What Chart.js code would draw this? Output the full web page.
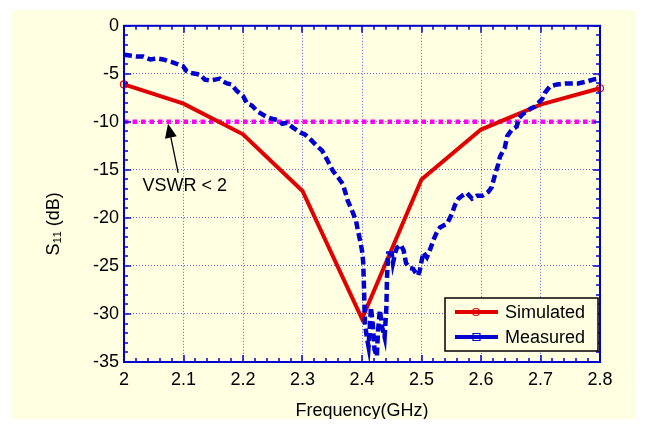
<!DOCTYPE html>
<html>
<head>
<meta charset="utf-8">
<script src="https://cdn.jsdelivr.net/npm/chart.js@4.4.1/dist/chart.umd.min.js"></script>
<style>
  html, body { margin: 0; padding: 0; background: #fff; }
  #panel { position: absolute; left: 12px; top: 10px; width: 624px; height: 409px; background: #FFFFE2; }
  canvas { display: block; }
</style>
</head>
<body>
<div id="panel"><canvas id="c" width="624" height="409"></canvas></div>
<script>
// simulated S11, one point per 0.1 GHz
const simFreq = [2.0, 2.1, 2.2, 2.3, 2.4, 2.5, 2.6, 2.7, 2.8];
const simS11 = [-6.1, -8.1, -11.3, -17.2, -30.5, -16.0, -10.8, -8.2, -6.5];

// measured S11
const measFreq = [
  2.000, 2.010, 2.020, 2.032, 2.044, 2.055, 2.066, 2.075, 2.082, 2.090,
  2.099, 2.105, 2.111, 2.120, 2.128, 2.136, 2.145, 2.153, 2.161, 2.167,
  2.173, 2.180, 2.190, 2.200, 2.207, 2.215, 2.224, 2.232, 2.240, 2.250,
  2.259, 2.266, 2.274, 2.284, 2.296, 2.304, 2.313, 2.324, 2.333, 2.341,
  2.351, 2.360, 2.368, 2.376, 2.385, 2.390, 2.393, 2.397, 2.400, 2.402,
  2.403, 2.404, 2.405, 2.408, 2.411, 2.413, 2.415, 2.418, 2.421, 2.425,
  2.427, 2.430, 2.434, 2.438, 2.441, 2.442, 2.444, 2.450, 2.452, 2.456,
  2.459, 2.465, 2.470, 2.474, 2.480, 2.486, 2.490, 2.494, 2.497, 2.503,
  2.509, 2.515, 2.520, 2.525, 2.531, 2.537, 2.543, 2.551, 2.556, 2.562,
  2.568, 2.576, 2.585, 2.593, 2.602, 2.612, 2.618, 2.624, 2.629, 2.632,
  2.640, 2.644, 2.652, 2.660, 2.664, 2.670, 2.677, 2.684, 2.691, 2.697,
  2.703, 2.707, 2.716, 2.728, 2.741, 2.752, 2.763, 2.778, 2.788, 2.797,
  2.800
];
const measS11 = [
  -3.0, -3.1, -3.2, -3.2, -3.5, -3.4, -3.5, -3.7, -3.8, -4.0,
  -4.2, -4.7, -4.9, -5.0, -5.1, -5.6, -5.7, -5.6, -5.5, -5.8,
  -6.0, -6.1, -6.8, -7.3, -8.1, -8.3, -8.9, -9.2, -9.5, -9.7,
  -9.8, -10.2, -10.1, -10.6, -11.1, -11.3, -11.8, -12.5, -13.0, -13.9,
  -15.1, -15.8, -16.5, -18.2, -19.5, -20.3, -21.3, -22.4, -23.4, -24.6,
  -26.5, -28.8, -31.0, -32.4, -33.4, -31.5, -29.3, -31.0, -33.7, -34.4,
  -31.7, -29.6, -31.4, -32.4, -29.3, -26.2, -23.7, -23.7, -24.7, -23.6,
  -23.1, -22.8, -23.4, -24.7, -25.2, -25.3, -25.7, -26.0, -25.5, -23.6,
  -24.1, -23.2, -22.3, -21.6, -21.0, -20.8, -20.6, -19.6, -18.7, -18.0,
  -17.7, -17.4, -18.0, -17.7, -17.7, -17.3, -16.8, -15.4, -14.4, -13.6,
  -12.7, -11.5, -10.8, -10.5, -9.6, -9.2, -8.9, -8.6, -8.4, -8.0,
  -7.6, -7.0, -6.3, -6.1, -6.0, -6.0, -6.0, -5.8, -5.6, -5.5,
  -5.3
];

// VSWR = 2 reference level
const vswrFreq = [2.0, 2.8];
const vswrS11 = [-10, -10];

const xTicks = [2.0, 2.1, 2.2, 2.3, 2.4, 2.5, 2.6, 2.7, 2.8];
const yTicks = [0, -5, -10, -15, -20, -25, -30, -35];

// arrow annotation: text spot, arrow tail, arrow tip (data units)
const noteText = 'VSWR < 2';
const noteAt = [2.102, -16.7];
const arrowFrom = [2.091, -15.3];
const arrowTo = [2.074, -10.2];

const FONT = '"Liberation Sans", Arial, sans-serif';
const FRAME = '#0000CC';
const RED = '#E00000';
const BLUE = '#0000D0';

const pts = (xs, ys) => xs.map((v, i) => ({ x: v, y: ys[i] }));

const frame = {
  id: 'frame',
  afterDatasetsDraw(chart) {
    const { ctx, chartArea: a, scales: { x, y } } = chart;
    ctx.save();
    // inward ticks on all four sides
    ctx.strokeStyle = FRAME;
    ctx.lineWidth = 1.5;
    ctx.beginPath();
    for (let i = 0; i <= 40; i++) {
      const px = Math.round(x.getPixelForValue(2 + i * 0.02));
      const len = i % 5 === 0 ? 7 : 4;
      ctx.moveTo(px, a.bottom); ctx.lineTo(px, a.bottom - len);
      ctx.moveTo(px, a.top); ctx.lineTo(px, a.top + len);
    }
    for (let i = 0; i <= 35; i++) {
      const py = Math.round(y.getPixelForValue(-i));
      const len = i % 5 === 0 ? 7 : 4;
      ctx.moveTo(a.left, py); ctx.lineTo(a.left + len, py);
      ctx.moveTo(a.right, py); ctx.lineTo(a.right - len, py);
    }
    ctx.stroke();
    ctx.lineWidth = 2;
    ctx.strokeRect(a.left, a.top, a.right - a.left, a.bottom - a.top);

    // arrow + note
    const tx = x.getPixelForValue(arrowFrom[0]), ty = y.getPixelForValue(arrowFrom[1]);
    const hx = x.getPixelForValue(arrowTo[0]), hy = y.getPixelForValue(arrowTo[1]);
    const ang = Math.atan2(hy - ty, hx - tx);
    const hl = 14, hw = 6;
    const bx = hx - hl * Math.cos(ang), by = hy - hl * Math.sin(ang);
    ctx.strokeStyle = '#000';
    ctx.fillStyle = '#000';
    ctx.lineWidth = 1.3;
    ctx.beginPath();
    ctx.moveTo(tx, ty); ctx.lineTo(bx, by);
    ctx.stroke();
    ctx.beginPath();
    ctx.moveTo(hx, hy);
    ctx.lineTo(bx + hw * Math.sin(ang), by - hw * Math.cos(ang));
    ctx.lineTo(bx - hw * Math.sin(ang), by + hw * Math.cos(ang));
    ctx.closePath();
    ctx.fill();
    ctx.font = '18px ' + FONT;
    ctx.textAlign = 'center';
    ctx.textBaseline = 'middle';
    ctx.fillText(noteText, x.getPixelForValue(noteAt[0]), y.getPixelForValue(noteAt[1]));

    // legend box, bottom right of the plot
    const ds = chart.data.datasets;
    const bw = 153, bh = 53;
    const bl = a.right - 2 - bw, bt = a.bottom - 11 - bh;
    ctx.fillStyle = '#FFFFE2';
    ctx.fillRect(bl, bt, bw, bh);
    ctx.strokeStyle = '#000';
    ctx.lineWidth = 1.5;
    ctx.strokeRect(bl, bt, bw, bh);
    [ds[1], ds[0]].forEach((d, k) => {
      const ly = bt + 14 + k * 25;
      ctx.strokeStyle = d.borderColor;
      ctx.lineWidth = 4;
      ctx.beginPath();
      ctx.moveTo(bl + 10, ly); ctx.lineTo(bl + 53, ly);
      ctx.stroke();
      ctx.lineWidth = 1.2;
      ctx.beginPath();
      if (k === 0) ctx.arc(bl + 31, ly, 3.5, 0, Math.PI * 2);
      else ctx.rect(bl + 28, ly - 3.5, 7, 7);
      ctx.stroke();
      ctx.fillStyle = '#000';
      ctx.font = '18px ' + FONT;
      ctx.textAlign = 'left';
      ctx.textBaseline = 'middle';
      ctx.fillText(d.label, bl + 60, ly + 1);
    });

    // axis titles
    ctx.fillStyle = '#000';
    ctx.font = '18px ' + FONT;
    ctx.textAlign = 'center';
    ctx.textBaseline = 'middle';
    ctx.fillText('Frequency(GHz)', (a.left + a.right) / 2, a.bottom + 49);
    ctx.translate(a.left - 70, a.top + 198);
    ctx.rotate(-Math.PI / 2);
    ctx.fillText('S\u2081\u2081 (dB)', 0, 0);
    ctx.restore();
  }
};

new Chart(document.getElementById('c'), {
  type: 'scatter',
  data: {
    datasets: [
      {
        label: 'Measured',
        data: pts(measFreq, measS11),
        showLine: true,
        borderColor: BLUE,
        borderWidth: 4.5,
        borderDash: [8, 4],
        borderCapStyle: 'butt',
        pointRadius: 0,
        tension: 0,
        order: 1
      },
      {
        label: 'Simulated',
        data: pts(simFreq, simS11),
        showLine: true,
        borderColor: RED,
        borderWidth: 4,
        pointStyle: 'circle',
        pointRadius: c => (c.dataIndex === 0 || c.dataIndex === simFreq.length - 1) ? 3.5 : 0,
        pointBorderColor: RED,
        pointBackgroundColor: 'rgba(0,0,0,0)',
        pointBorderWidth: 1.2,
        tension: 0,
        clip: false,
        order: 2
      },
      {
        label: 'VSWR=2',
        data: pts(vswrFreq, vswrS11),
        showLine: true,
        borderColor: '#FF00FF',
        borderWidth: 4.5,
        borderDash: [4.5, 4],
        pointRadius: 0,
        order: 3
      }
    ]
  },
  options: {
    responsive: false,
    animation: false,
    layout: { padding: { left: 0, right: 36, top: 14, bottom: 0 } },
    plugins: { legend: { display: false }, tooltip: { enabled: false } },
    scales: {
      x: {
        type: 'linear',
        min: 2, max: 2.8,
        afterBuildTicks: s => { s.ticks = xTicks.map(v => ({ value: v })); },
        afterFit: s => { s.height = 57; },
        ticks: {
          color: '#000',
          font: { size: 18, family: FONT },
          padding: 7,
          maxRotation: 0,
          callback: v => String(Math.round(v * 10) / 10)
        },
        grid: { color: 'rgba(40,40,220,0.75)', lineWidth: 1, drawTicks: false, tickLength: 0 },
        border: { display: false, dash: [1, 2] }
      },
      y: {
        type: 'linear',
        min: -35, max: 0,
        afterBuildTicks: s => { s.ticks = yTicks.map(v => ({ value: v })); },
        afterFit: s => { s.width = 112; },
        ticks: {
          color: '#000',
          font: { size: 18, family: FONT },
          padding: 5,
          callback: v => String(v)
        },
        grid: { color: 'rgba(40,40,220,0.75)', lineWidth: 1, drawTicks: false, tickLength: 0 },
        border: { display: false, dash: [1, 2] }
      }
    }
  },
  plugins: [frame]
});
</script>
</body>
</html>
